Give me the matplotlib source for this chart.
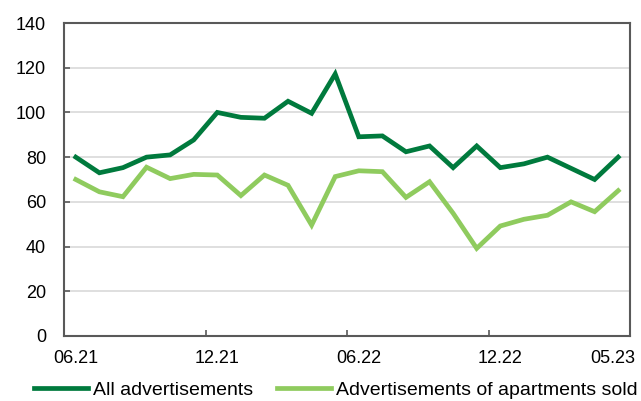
import numpy as np
import matplotlib
matplotlib.use("Agg")
import matplotlib.pyplot as plt

# monthly data 06.21 - 05.23
months = ["06.21", "07.21", "08.21", "09.21", "10.21", "11.21", "12.21", "01.22",
          "02.22", "03.22", "04.22", "05.22", "06.22", "07.22", "08.22", "09.22",
          "10.22", "11.22", "12.22", "01.23", "02.23", "03.23", "04.23", "05.23"]
all_ads = [80, 73, 75.3, 80, 81, 87.7, 100, 97.8, 97.4, 105, 99.6, 117.2,
           89.1, 89.5, 82.4, 85, 75.3, 85, 75.3, 77, 80, 75, 70, 80]
sold_ads = [70, 64.5, 62.3, 75.5, 70.4, 72.3, 72, 62.8, 72, 67.4, 49.6, 71.3,
            73.9, 73.5, 62, 69, 54.9, 39.2, 49.2, 52.2, 54, 60, 55.6, 65]
tick_labels = ["06.21", "12.21", "06.22", "12.22", "05.23"]

plt.rcParams['font.family'] = ['Liberation Sans', 'DejaVu Sans']
plt.rcParams['font.size'] = 13

dark = '#007A3D'
light = '#8FCB5E'
spine_col = '#595959'

fig = plt.figure(figsize=(6.41, 4.01), dpi=100)
ax = fig.add_axes([64/641, 1-336/401, (630-64)/641, (336-23)/401])

x = np.arange(len(months)) + 0.5
ax.plot(x, all_ads, color=dark, lw=3.4, solid_joinstyle='miter', label='All advertisements')
ax.plot(x, sold_ads, color=light, lw=3.4, solid_joinstyle='miter',
        label='Advertisements of apartments sold')

ax.set_xlim(0, len(months))
ax.set_ylim(0, 140)
ax.set_yticks(np.arange(0, 141, 20))
ax.yaxis.grid(True, color='#D9D9D9', lw=1.2)
ax.set_axisbelow(True)

# tick marks at category boundaries, labels at category centres
ax.set_xticks([0, 6, 12, 18, 24])
ax.set_xticklabels([])
ax.set_xticks([0.5, 6.5, 12.5, 18.5, 23.25], minor=True)
ax.set_xticklabels(tick_labels, minor=True)
ax.tick_params(axis='x', which='major', direction='in', length=4, width=1.2, color=spine_col)
ax.tick_params(axis='x', which='minor', length=0, pad=10)
ax.tick_params(axis='y', direction='in', length=4.5, width=1.2, color=spine_col, pad=13)

for s in ax.spines.values():
    s.set_color(spine_col)
    s.set_linewidth(1.5)

fig.legend(loc='center', bbox_to_anchor=(336/641, 1-390/401), ncol=2, frameon=False,
           fontsize=14, handlelength=2.8, handletextpad=0.26, columnspacing=1.2,
           borderpad=0, borderaxespad=0)

fig.savefig('out.png', dpi=100)
